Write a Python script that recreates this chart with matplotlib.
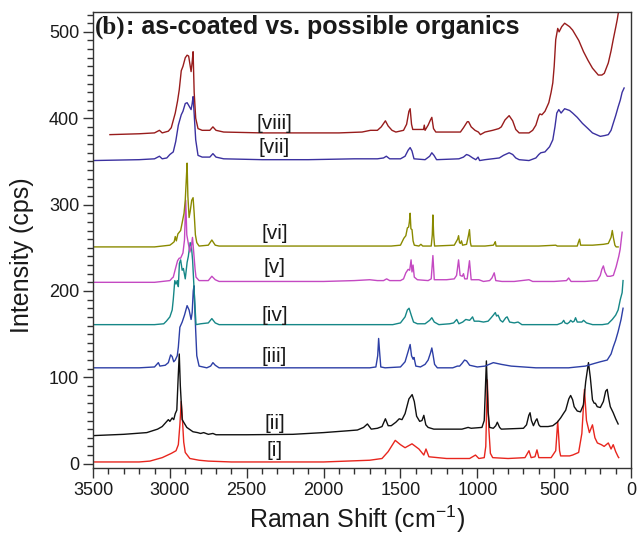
import matplotlib
matplotlib.use("Agg")
import matplotlib.pyplot as plt
from matplotlib.ticker import MultipleLocator

plt.rcParams["font.family"] = ["Liberation Sans", "DejaVu Sans"]
plt.rcParams["mathtext.fontset"] = "custom"
plt.rcParams["mathtext.rm"] = "Liberation Sans"
plt.rcParams["axes.unicode_minus"] = False

# Raman spectra as (wavenumber, intensity) pairs
spec_i = [(3500, 2), (3200, 2), (3130, 3), (3050, 7), (2990, 12), (2960, 15), (2945, 22),
          (2935, 45), (2926, 72), (2918, 50), (2910, 25), (2900, 13), (2870, 6), (2810, 4),
          (2750, 3), (2600, 2), (2000, 2), (1700, 4), (1620, 6), (1580, 14), (1534, 27),
          (1500, 22), (1470, 18.5), (1425, 23), (1380, 17), (1348, 10), (1334, 17), (1315, 8),
          (1200, 6), (1050, 6), (1012, 10), (990, 6), (955, 7), (945, 20), (935, 97), (925, 40),
          (915, 12), (900, 7), (800, 6), (690, 7), (664, 15), (650, 7), (625, 8), (612, 16),
          (600, 7), (520, 7), (490, 15), (477, 49), (465, 15), (458, 9), (400, 9), (380, 10),
          (341, 13), (320, 35), (310, 65), (303, 86), (290, 50), (271, 36), (251, 45), (235, 30),
          (219, 24), (193, 22), (175, 20), (148, 24), (130, 17), (116, 22), (100, 14), (84, 8),
          (80, 7)]

spec_ii = [(3500, 32.5), (3300, 34), (3150, 36), (3080, 40), (3050, 43), (3030, 47), (3010, 51),
           (3000, 49), (2985, 53), (2975, 51), (2965, 58), (2955, 62), (2946, 100), (2939, 127),
           (2932, 90), (2920, 51), (2890, 42), (2850, 37), (2820, 36), (2800, 35), (2780, 36),
           (2750, 34), (2720, 35), (2700, 33.5), (2500, 33.5), (2200, 34), (2000, 36), (1850, 38),
           (1780, 39), (1740, 42), (1715, 46), (1690, 40), (1650, 41), (1620, 43), (1598, 52),
           (1580, 44), (1560, 44), (1530, 48), (1508, 52), (1490, 51), (1470, 58), (1445, 75),
           (1424, 80), (1410, 72), (1395, 55), (1375, 49), (1360, 50), (1348, 56), (1335, 45),
           (1320, 42), (1283, 40), (1100, 40), (1060, 42), (1040, 41), (970, 42), (955, 50),
           (941, 119), (930, 60), (920, 42), (896, 41), (880, 44), (870, 48), (855, 42), (844, 40),
           (700, 41), (680, 45), (665, 56), (657, 59), (648, 50), (635, 44), (620, 50), (612, 52),
           (600, 45), (590, 43), (540, 43), (509, 44), (480, 48), (458, 53), (440, 58), (425, 62),
           (405, 75), (393, 79), (380, 74), (370, 66), (350, 61), (329, 60), (310, 68), (295, 95),
           (277, 117), (265, 100), (251, 74), (240, 70), (232, 70), (220, 66), (200, 65),
           (180, 72), (165, 84), (155, 86), (145, 75), (135, 66), (116, 59), (100, 52), (84, 46)]

spec_iii = [(3500, 111), (3200, 111), (3100, 112), (3085, 115), (3075, 117), (3065, 113),
            (3030, 114), (3010, 117), (2995, 126), (2985, 124), (2975, 118), (2965, 120),
            (2952, 125), (2945, 135), (2935, 158), (2920, 164), (2905, 172), (2888, 183),
            (2875, 178), (2862, 167), (2855, 175), (2848, 200), (2843, 206), (2836, 170),
            (2825, 125), (2810, 113), (2760, 111), (2735, 113), (2720, 117), (2705, 114),
            (2680, 111), (2300, 111), (1700, 111), (1660, 112), (1648, 125), (1642, 145),
            (1636, 130), (1628, 112), (1600, 111), (1500, 112), (1470, 118), (1450, 130),
            (1437, 138), (1428, 125), (1418, 121), (1412, 123), (1400, 113), (1370, 112),
            (1340, 115), (1320, 120), (1305, 128), (1296, 134), (1288, 126), (1278, 115),
            (1260, 111), (1160, 111), (1130, 113), (1115, 113), (1100, 116), (1083, 120),
            (1070, 119), (1050, 114), (1000, 112), (950, 113), (896, 117), (870, 116), (844, 115),
            (780, 113), (700, 112), (619, 111), (500, 111), (406, 111), (297, 113), (240, 116),
            (200, 118), (155, 120), (130, 127), (116, 135), (100, 143), (84, 153), (65, 167),
            (52, 180)]

spec_iv = [(3500, 161), (3100, 161), (3040, 162), (3023, 165), (3000, 170), (2985, 178),
           (2978, 190), (2968, 212), (2960, 208), (2952, 212), (2945, 205), (2938, 232),
           (2930, 236), (2920, 224), (2912, 226), (2900, 214), (2888, 233), (2880, 240),
           (2868, 256), (2860, 252), (2852, 235), (2842, 200), (2830, 161), (2800, 162),
           (2750, 163), (2727, 168), (2705, 163), (2680, 161), (1700, 161), (1550, 161),
           (1500, 163), (1470, 170), (1455, 178), (1444, 180), (1430, 172), (1415, 164),
           (1390, 162), (1340, 162), (1310, 166), (1296, 169), (1280, 164), (1250, 161),
           (1180, 162), (1154, 163), (1134, 167), (1120, 162), (1095, 164), (1075, 167),
           (1050, 166), (1040, 168), (1031, 170), (1020, 165), (990, 165), (960, 164), (930, 165),
           (910, 169), (896, 172), (883, 175), (875, 171), (865, 172), (850, 166), (835, 164),
           (815, 169), (806, 170), (790, 164), (760, 163), (735, 164), (710, 161), (600, 161),
           (480, 161), (450, 163), (438, 166), (430, 163), (415, 162), (400, 164), (393, 166),
           (380, 164), (370, 165), (361, 169), (350, 164), (320, 164), (309, 166), (290, 163),
           (250, 161), (187, 161), (150, 162), (122, 167), (100, 172), (84, 178), (70, 190),
           (58, 198), (52, 212)]

spec_v = [(3500, 210), (3100, 210), (3000, 212), (2985, 215), (2978, 216), (2965, 225),
          (2950, 235), (2939, 238), (2930, 238), (2915, 244), (2905, 259), (2897, 305),
          (2890, 265), (2880, 255), (2870, 245), (2860, 252), (2853, 262), (2845, 245),
          (2836, 225), (2830, 216), (2810, 212), (2750, 212), (2727, 217), (2705, 213),
          (2680, 211), (2400, 211), (2000, 211), (1800, 212), (1700, 213), (1650, 212),
          (1610, 212), (1590, 214), (1570, 212), (1500, 212), (1480, 214), (1465, 221),
          (1450, 225), (1440, 224), (1431, 236), (1425, 222), (1418, 230), (1410, 216),
          (1390, 213), (1320, 212), (1300, 214), (1289, 241), (1280, 213), (1200, 213),
          (1150, 214), (1135, 218), (1122, 236), (1112, 218), (1098, 217), (1090, 220),
          (1082, 214), (1066, 214), (1051, 235), (1040, 213), (990, 213), (960, 211), (920, 212),
          (905, 215), (890, 221), (880, 212), (840, 211), (760, 211), (664, 213), (640, 211),
          (500, 211), (420, 212), (406, 215), (390, 211), (300, 211), (220, 212), (200, 218),
          (190, 225), (180, 229), (170, 222), (155, 217), (135, 217), (115, 218), (97, 228),
          (80, 240), (71, 248), (58, 268)]

spec_vi = [(3500, 251), (3100, 251), (3000, 253), (2985, 255), (2972, 257), (2965, 263),
           (2958, 258), (2948, 266), (2939, 268), (2930, 270), (2920, 279), (2908, 290),
           (2900, 305), (2893, 330), (2888, 348), (2883, 310), (2875, 285), (2868, 292),
           (2858, 305), (2849, 308), (2842, 290), (2834, 265), (2825, 256), (2810, 252),
           (2750, 253), (2727, 259), (2705, 253), (2680, 252), (2200, 252), (1700, 252),
           (1560, 252), (1500, 253), (1478, 261), (1465, 264), (1455, 273), (1447, 274),
           (1442, 280), (1437, 290), (1432, 272), (1425, 271), (1418, 258), (1410, 253),
           (1380, 252), (1367, 254), (1355, 252), (1300, 252), (1293, 265), (1289, 288),
           (1284, 265), (1278, 252), (1150, 253), (1128, 260), (1122, 264), (1116, 256),
           (1110, 255), (1103, 258), (1096, 253), (1070, 254), (1058, 264), (1051, 271),
           (1045, 256), (1040, 252), (950, 252), (896, 253), (888, 255), (883, 257), (878, 252),
           (800, 252), (600, 252), (490, 253), (480, 252), (350, 252), (343, 256), (335, 260),
           (328, 253), (250, 253), (180, 254), (148, 255), (130, 262), (122, 270), (115, 262),
           (105, 253), (97, 251), (84, 251)]

spec_vii = [(3500, 351), (3200, 352), (3100, 353), (3068, 356), (3050, 353), (3020, 354),
            (3000, 358), (2978, 361), (2962, 373), (2945, 392), (2926, 404), (2915, 408),
            (2900, 417), (2888, 418), (2878, 415), (2862, 410), (2855, 417), (2849, 425),
            (2842, 405), (2832, 375), (2817, 357), (2790, 355), (2740, 355), (2720, 359),
            (2700, 355), (2650, 353), (2400, 352), (2100, 352), (1800, 353), (1650, 353),
            (1610, 354), (1592, 356), (1570, 353), (1500, 353), (1470, 356), (1450, 363),
            (1437, 366), (1425, 362), (1412, 353), (1340, 352), (1310, 356), (1296, 360),
            (1282, 357), (1265, 352), (1120, 353), (1090, 355), (1070, 358), (1055, 357),
            (1030, 354), (1010, 352), (995, 355), (985, 351), (950, 352), (857, 354), (830, 357),
            (793, 360), (770, 358), (750, 354), (728, 352), (664, 351), (619, 354), (600, 358),
            (587, 360), (560, 361), (530, 367), (509, 375), (495, 390), (483, 406), (470, 410),
            (455, 406), (432, 411), (400, 409), (380, 406), (350, 401), (316, 394), (280, 388),
            (251, 383), (200, 379), (170, 380), (148, 381), (130, 386), (116, 394), (100, 403),
            (84, 413), (70, 421), (58, 430), (45, 435)]

spec_viii = [(3390, 381), (3200, 382), (3100, 383), (3068, 386), (3050, 383), (3010, 385),
             (2991, 389), (2965, 406), (2950, 420), (2939, 433), (2926, 455), (2915, 460),
             (2900, 470), (2888, 473), (2878, 472), (2862, 454), (2855, 465), (2849, 477),
             (2842, 430), (2832, 400), (2817, 388), (2790, 386), (2740, 386), (2720, 390),
             (2700, 386), (2650, 384), (2400, 383), (2100, 383), (1900, 383), (1750, 384),
             (1695, 386), (1650, 386), (1625, 390), (1598, 397), (1580, 391), (1555, 386),
             (1530, 384), (1480, 386), (1460, 393), (1445, 408), (1437, 411), (1428, 393),
             (1420, 387), (1370, 387), (1350, 387), (1345, 392), (1340, 386), (1320, 392),
             (1305, 398), (1296, 401), (1285, 388), (1270, 384), (1110, 384), (1090, 389),
             (1065, 396), (1057, 396), (1040, 390), (1015, 386), (993, 384), (980, 381),
             (950, 384), (900, 386), (860, 388), (844, 390), (820, 398), (793, 403), (770, 397),
             (750, 387), (728, 383), (664, 383), (640, 386), (619, 392), (600, 403), (593, 405),
             (580, 404), (560, 408), (535, 418), (520, 430), (509, 441), (500, 460), (490, 491),
             (477, 504), (468, 500), (451, 506), (432, 510), (400, 506), (380, 502), (340, 490),
             (309, 477), (280, 467), (251, 458), (213, 450), (190, 450), (174, 452), (148, 464),
             (130, 478), (116, 491), (100, 505), (90, 514), (80, 525), (72, 535)]

spectra = [spec_i, spec_ii, spec_iii, spec_iv, spec_v, spec_vi, spec_vii, spec_viii]
labels = ["[i]", "[ii]", "[iii]", "[iv]", "[v]", "[vi]", "[vii]", "[viii]"]
label_y = [15, 47, 124, 172, 227, 266, 366, 394]
colors = ["#e8261e", "#111111", "#2d3fa6", "#168787", "#c449c2", "#8a8a00", "#3b31a0", "#981c1c"]

fig = plt.figure(figsize=(6.38, 5.38), dpi=100)
ax = fig.add_axes([0.1458, 0.1301, 0.8433, 0.8476])

for spec, col in zip(spectra, colors):
    xs = [p[0] for p in spec]
    ys = [p[1] for p in spec]
    ax.plot(xs, ys, color=col, lw=1.0)

for lab, ly in zip(labels, label_y):
    ax.text(2320, ly, lab, ha="center", va="center", fontsize=15, color="#1a1a1a")

ax.set_xlim(3500, 0)
ax.set_ylim(-5, 523)
ax.xaxis.set_major_locator(MultipleLocator(500))
ax.xaxis.set_minor_locator(MultipleLocator(100))
ax.yaxis.set_major_locator(MultipleLocator(100))
ax.yaxis.set_minor_locator(MultipleLocator(10))
ax.tick_params(which="major", direction="out", length=7, width=1, labelsize=13,
               colors="#333333", labelcolor="#1a1a1a", pad=3)
ax.tick_params(which="minor", direction="out", length=4, width=1, colors="#333333")
for sp in ax.spines.values():
    sp.set_color("#333333")
    sp.set_linewidth(1.0)

ax.set_xlabel(r"Raman Shift (cm$^{\mathrm{-1}}$)", fontsize=18, color="#1a1a1a")
ax.set_ylabel("Intensity (cps)", fontsize=18, color="#1a1a1a")
ax.xaxis.set_label_coords(0.49, -0.078)
ax.yaxis.set_label_coords(-0.11, 0.467)

t1 = ax.text(0.004, 0.992, "(b)", transform=ax.transAxes, ha="left", va="top",
             fontsize=18, fontweight="bold", family=["Liberation Serif", "DejaVu Serif"],
             color="#1a1a1a")
ax.annotate(": as-coated vs. possible organics", xy=(1, 0), xycoords=t1,
            ha="left", va="bottom", fontsize=18, fontweight="bold", color="#1a1a1a")

fig.savefig("out.png", dpi=100)
